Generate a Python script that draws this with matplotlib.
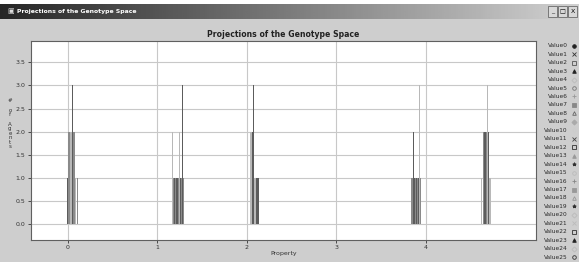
import numpy as np
import matplotlib
matplotlib.use('Agg')
import matplotlib.pyplot as plt
from matplotlib.patches import Rectangle

# property values of the projected genotypes and number of agents at each
prop = [0.000, 0.011, 0.022, 0.033, 0.044, 0.056, 0.066, 0.077, 0.088, 0.108,
        1.167, 1.178, 1.189, 1.200, 1.212, 1.223, 1.234, 1.252, 1.263, 1.274, 1.284, 1.295,
        2.038, 2.050, 2.064, 2.075, 2.092, 2.104, 2.116, 2.126,
        3.836, 3.848, 3.859, 3.870, 3.881, 3.892, 3.903, 3.914, 3.929, 3.940,
        4.626, 4.640, 4.651, 4.662, 4.673, 4.684, 4.695, 4.706, 4.718]
agents = [1, 2, 2, 2, 2, 3, 2, 2, 1, 1,
          2, 1, 1, 1, 1, 1, 1, 2, 1, 1, 3, 1,
          2, 2, 2, 3, 1, 1, 1, 1,
          1, 1, 2, 1, 1, 1, 1, 1, 3, 1,
          1, 2, 2, 2, 2, 3, 2, 1, 1]
shade = list('dmmlldmmlm' 'lmdmddmldmdm' 'llddlddd' 'mmddmdmdlm' 'lmddmldll')

x_ticks = [0, 1, 2, 3, 4]
y_ticks = [0.0, 0.5, 1.0, 1.5, 2.0, 2.5, 3.0, 3.5]
series = ['Value%d' % i for i in range(26)]

greys = {'d': '#5c5c5c', 'm': '#8a8a8a', 'l': '#b8b8b8'}
W, H = 579, 262

fig = plt.figure(figsize=(W / 100, H / 100), dpi=100)
fig.patch.set_facecolor('#cecece')

# window frame: white strip + title bar gradient
fig.patches.append(Rectangle((0, 1 - 4 / H), 1, 4 / H, transform=fig.transFigure,
                             facecolor='white', edgecolor='none'))
bar = fig.add_axes([0, 1 - 19 / H, 1, 15 / H])
bar.imshow(np.linspace(0.15, 0.82, 256)[None, :], cmap='gray', aspect='auto',
           vmin=0, vmax=1, extent=(0, 1, 0, 1))
bar.axis('off')
bar.text(0.012, 0.5, '\u25a3', color='#dddddd', fontsize=5, va='center', ha='left')
bar.text(0.03, 0.5, 'Projections of the Genotype Space', color='white',
         fontsize=4.4, fontweight='bold', va='center', ha='left')
for i, g in enumerate(['_', '\u25a1', 'X']):
    x0 = (548 + i * 10) / W
    bar.add_patch(Rectangle((x0, 0.15), 9 / W, 0.7, facecolor='#d8d8d8',
                            edgecolor='#555555', linewidth=0.5))
    bar.text(x0 + 4.5 / W, 0.5, g, fontsize=4.5, ha='center', va='center', color='black')

ax = fig.add_axes([31 / W, 1 - 239.5 / H, (536 - 31) / W, (239.5 - 41) / H])
ax.set_facecolor('white')
ax.bar(prop, agents, width=0.0118, color=[greys[s] for s in shade], linewidth=0,
       antialiased=False, zorder=3)
ax.set_xlim(-0.41, 5.23)
ax.set_ylim(-0.33, 3.96)
ax.set_xticks(x_ticks)
ax.set_yticks(y_ticks)
ax.set_yticklabels(['%.1f' % v for v in y_ticks])
ax.grid(True, color='#c8c8c8', linewidth=0.8)
ax.set_axisbelow(True)
ax.tick_params(labelsize=4.5, colors='#333333', length=2, width=0.6, pad=2)
for sp in ax.spines.values():
    sp.set_color('#606060')
    sp.set_linewidth(0.8)
ax.set_title('Projections of the Genotype Space', fontsize=5.6, fontweight='bold',
             color='#222222', pad=3)
ax.set_xlabel('Property', fontsize=4.5, color='#333333', labelpad=1)
fig.text(10 / W, 1 - 124 / H, '\n'.join('# of Agents'), fontsize=4, color='#333333',
         ha='center', va='center', linespacing=0.9)

# legend on the right
mk = ['o', 'x', 's', '^', 'D', 'o', '+', 's', '^', 'D', 'd', 'x', 's',
      '^', '*', 'o', '+', 's', '^', '*', 'D', 'x', 's', '^', 'D', 'o']
filled = [1, 0, 0, 1, 0, 0, 0, 1, 0, 1, 0, 0, 0, 1, 1, 0, 0, 1, 0, 1, 0, 0, 0, 1, 0, 0]
mcol = ['#222', '#333', '#555', '#222', '#bbb', '#777', '#999', '#888', '#666', '#aaa',
        '#ccc', '#444', '#333', '#999', '#333', '#bbb', '#888', '#999', '#999', '#333',
        '#bbb', '#bbb', '#333', '#222', '#bbb', '#333']
for i, name in enumerate(series):
    y = 1 - (45.7 + i * 8.46) / H
    fig.text(567.5 / W, y, name, fontsize=4.2, color='#2a2a2a', ha='right', va='center')
    fig.lines.append(plt.Line2D([574 / W], [y], transform=fig.transFigure, marker=mk[i],
                                markersize=2.6, markeredgewidth=0.6, color=mcol[i],
                                markerfacecolor=mcol[i] if filled[i] else 'none'))

fig.savefig('out.png', dpi=100, facecolor=fig.get_facecolor())
